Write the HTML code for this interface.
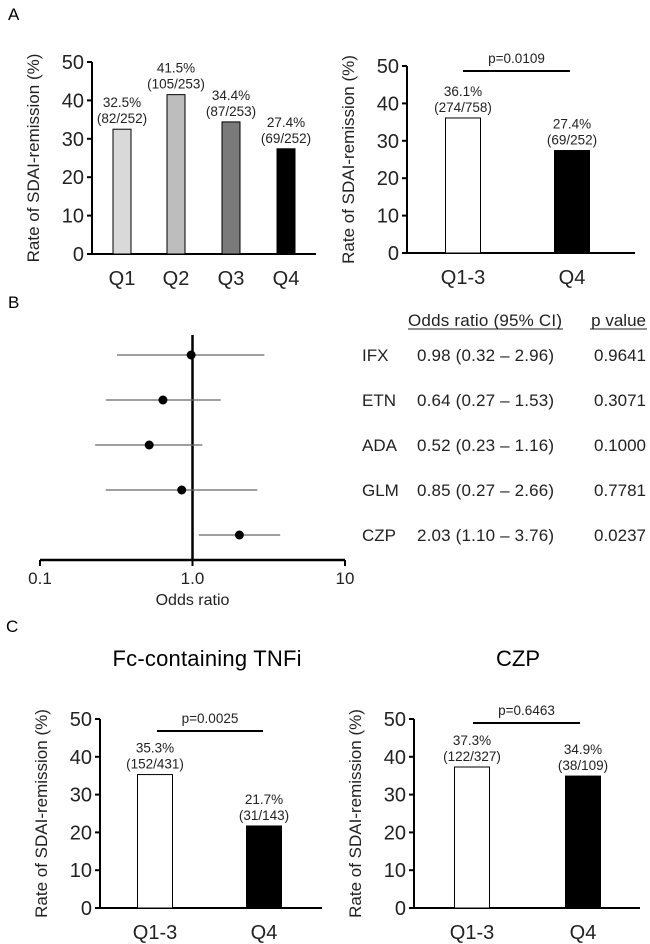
<!DOCTYPE html>
<html><head><meta charset="utf-8"><style>
body{margin:0;background:#fff}
svg{display:block;font-family:"Liberation Sans",sans-serif}
</style></head><body>
<svg id="fig" width="650" height="944" viewBox="0 0 650 944" xmlns="http://www.w3.org/2000/svg">
<text x="8" y="20" font-size="17">A</text>
<text x="8" y="308" font-size="17">B</text>
<text x="6" y="632" font-size="17">C</text>
<text x="207" y="666" font-size="22" text-anchor="middle" textLength="189">Fc-containing TNFi</text>
<text x="518" y="666" font-size="22" text-anchor="middle">CZP</text>
</svg>
<script>
const svgNS="http://www.w3.org/2000/svg";
const fig=document.getElementById('fig');
// Panel A left
const aCats=["Q1","Q2","Q3","Q4"];
const aVals=[32.5,41.5,34.4,27.4];
const aLabels=["32.5%|(82/252)","41.5%|(105/253)","34.4%|(87/253)","27.4%|(69/252)"];
const aFills=["#d9d9d9","#bdbdbd","#7a7a7a","#000"];
// Panel A right
const bCats=["Q1-3","Q4"];
const bVals=[36.1,27.4];
const bLabels=["36.1%|(274/758)","27.4%|(69/252)"];
// Panel C left
const cCats=["Q1-3","Q4"];
const cVals=[35.3,21.7];
const cLabels=["35.3%|(152/431)","21.7%|(31/143)"];
// Panel C right
const dCats=["Q1-3","Q4"];
const dVals=[37.3,34.9];
const dLabels=["37.3%|(122/327)","34.9%|(38/109)"];
const yTicks=[0,10,20,30,40,50];
// Forest
const fDrugs=["IFX","ETN","ADA","GLM","CZP"];
const fOR=[0.98,0.64,0.52,0.85,2.03];
const fLo=[0.32,0.27,0.23,0.27,1.10];
const fHi=[2.96,1.53,1.16,2.66,3.76];
const fText=["0.98 (0.32 \u2013 2.96)","0.64 (0.27 \u2013 1.53)","0.52 (0.23 \u2013 1.16)","0.85 (0.27 \u2013 2.66)","2.03 (1.10 \u2013 3.76)"];
const fP=["0.9641","0.3071","0.1000","0.7781","0.0237"];
const xTicks=[0.1,1,10];
const xTickLabels=["0.1","1.0","10"];

function el(tag,attrs,parent){const e=document.createElementNS(svgNS,tag);for(const k in attrs)e.setAttribute(k,attrs[k]);(parent||fig).appendChild(e);return e;}
function txt(x,y,s,size,anchor,parent){const t=el('text',{x:x,y:y,'font-size':size,'text-anchor':anchor||'middle',fill:'#222'},parent);t.textContent=s;return t;}

function barChart(o){
  const g=el('g',{});
  
  
  const ys=v=>o.y0-(v/50)*(o.y0-o.y50);
  const ax=el('line',{x1:o.ax,y1:o.y50,x2:o.ax,y2:o.y0,stroke:'#000','stroke-width':2},g);
  
  
  const xa=el('line',{x1:o.ax,y1:o.y0,x2:o.xEnd,y2:o.y0,stroke:'#000','stroke-width':2},g);
  
  
  yTicks.forEach(t=>{
    el('line',{x1:o.ax-5,y1:ys(t),x2:o.ax,y2:ys(t),stroke:'#000','stroke-width':2},g);
    const tl=txt(o.ax-8,ys(t)+7,String(t),20,'end',g);
    
    
  });
  const yt=txt(0,0,'Rate of SDAI-remission (%)',17,'middle',g);
  yt.setAttribute('transform',`translate(${o.ax-53},${(o.y0+o.y50)/2}) rotate(-90)`);
  
  
  o.cats.forEach((c,i)=>{
    const cx=o.cx[i];
    const r=el('rect',{x:cx-o.bw/2,y:ys(o.vals[i]),width:o.bw,height:o.y0-ys(o.vals[i]),fill:o.fills[i],stroke:'#000','stroke-width':1},g);
    
    
    const parts=o.labels[i].split('|');
    const t1=txt(cx,ys(o.vals[i])-22,parts[0],13.5,'middle',g);
    
    
    const t2=txt(cx,ys(o.vals[i])-6,parts[1],13.5,'middle',g);
    
    
    const xl=txt(cx,o.y0+31,c,20,'middle',g);
    
    
  });
  if(o.p){
    const pl=el('line',{x1:o.p.x1,y1:o.p.y,x2:o.p.x2,y2:o.p.y,stroke:'#000','stroke-width':2},g);
    
    
    const pt=txt((o.p.x1+o.p.x2)/2,o.p.y-8,o.p.s,13.5,'middle',g);
    
    
  }
}
barChart({name:'chart-quartiles',ax:92,y0:254,y50:62,xEnd:316,cats:aCats,vals:aVals,labels:aLabels,fills:aFills,cx:[122,176,231,286],bw:18});
barChart({name:'chart-q13-vs-q4',ax:407,y0:253,y50:66,xEnd:635,cats:bCats,vals:bVals,labels:bLabels,fills:['#fff','#000'],cx:[463,572],bw:35,p:{x1:463,x2:570,y:71,s:'p=0.0109'}});
barChart({name:'chart-fc-tnfi',ax:100,y0:908,y50:719,xEnd:322,cats:cCats,vals:cVals,labels:cLabels,fills:['#fff','#000'],cx:[155,264],bw:35,p:{x1:157,x2:263,y:731,s:'p=0.0025'}});
barChart({name:'chart-czp',ax:414,y0:908,y50:719,xEnd:640,cats:dCats,vals:dVals,labels:dLabels,fills:['#fff','#000'],cx:[472,583],bw:35,p:{x1:473,x2:580,y:723,s:'p=0.6463'}});

// Forest plot
(function(){
  const g=el('g',{});
  
  
  const xL=40,xR=345,yAx=560;
  const xs=v=>xL+(Math.log10(v)+1)/2*(xR-xL);
  const rowY=i=>355+i*45;
  const xa=el('line',{x1:xL,y1:yAx,x2:xR,y2:yAx,stroke:'#000','stroke-width':2.5},g);
  
  
  xTicks.forEach((t,i)=>{
    el('line',{x1:xs(t),y1:yAx,x2:xs(t),y2:yAx+6,stroke:'#000','stroke-width':2},g);
    const tl=txt(xs(t),yAx+24,xTickLabels[i],17,'middle',g);
    
    
  });
  const ref=el('line',{x1:xs(1),y1:335,x2:xs(1),y2:yAx,stroke:'#000','stroke-width':2.5},g);
  
  
  const xt=txt(xs(1),605,'Odds ratio',16,'middle',g);
  
  
  fDrugs.forEach((d,i)=>{
    const y=rowY(i);
    const ci=el('line',{x1:xs(fLo[i]),y1:y,x2:xs(fHi[i]),y2:y,stroke:'#666','stroke-width':1.3},g);
    
    
    const pt=el('circle',{cx:xs(fOR[i]),cy:y,r:4.5,fill:'#000'},g);
    
    
    const t1=txt(362,y+6,d,17,'start',g);
    
    
    const t2=txt(417,y+6,fText[i],17,'start',g);
    t2.setAttribute('textLength','137');
    
    
    const t3=txt(646,y+6,fP[i],17,'end',g);
    
    
  });
  const h1=txt(408,326,'Odds ratio (95% CI)',17,'start',g);
  h1.setAttribute('textLength','154');
  
  
  el('line',{x1:408,y1:329,x2:563,y2:329,stroke:'#222','stroke-width':1},g);
  const h2=txt(646,326,'p value',17,'end',g);
  
  
  el('line',{x1:590,y1:329,x2:647,y2:329,stroke:'#222','stroke-width':1},g);
})();
</script>
</body></html>
